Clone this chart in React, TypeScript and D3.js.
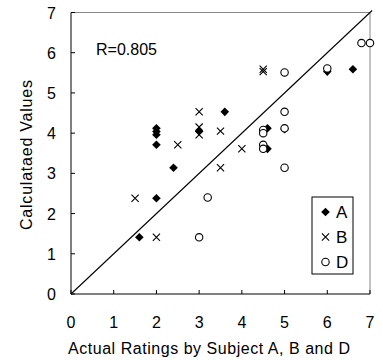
import React from 'react'
import * as d3 from 'd3'

// [actual rating, calculated value]
const seriesA: [number, number][] = [
  [1.6, 1.41], [2, 2.38], [2, 3.71], [2, 3.96], [2, 4.04], [2, 4.12], [2.4, 3.14],
  [3, 4.05], [3.6, 4.53], [4.6, 4.12], [4.6, 3.61], [5, 4.1], [6, 5.53], [6.6, 5.59],
]
const seriesB: [number, number][] = [
  [1.5, 2.38], [2, 1.41], [2.5, 3.71], [3, 4.53], [3, 4.15], [3, 3.96], [3.5, 3.14],
  [3.5, 4.05], [4, 3.61], [4.5, 5.59], [4.5, 5.53],
]
const seriesD: [number, number][] = [
  [3, 1.41], [3.2, 2.4], [4.5, 4.08], [4.5, 4.0], [4.5, 3.71], [4.5, 3.61], [5, 5.51],
  [5, 4.53], [5, 4.12], [5, 3.14], [6, 5.61], [6.8, 6.24], [7, 6.24],
]
const ticks = [0, 1, 2, 3, 4, 5, 6, 7]
const legendNames = ['A', 'B', 'D']
const rLabel = 'R=0.805'

const W = 383
const H = 360
const left = 71
const right = 370
const top = 12.5
const bottom = 294

const x = d3.scaleLinear().domain([0, 7]).range([left, right])
const y = d3.scaleLinear().domain([0, 7]).range([bottom, top])

const font = 'Arial, "Liberation Sans", sans-serif'

const diamond = (cx: number, cy: number, r: number) =>
  `M${cx},${cy - r}L${cx + r},${cy}L${cx},${cy + r}L${cx - r},${cy}Z`
const cross = (cx: number, cy: number, r: number) =>
  `M${cx - r},${cy - r}L${cx + r},${cy + r}M${cx - r},${cy + r}L${cx + r},${cy - r}`

const Marker = ({ kind, cx, cy }: { kind: string; cx: number; cy: number }) => {
  if (kind === 'A') return <path d={diamond(cx, cy, 4.3)} fill="#000" />
  if (kind === 'B') return <path d={cross(cx, cy, 3.6)} stroke="#000" strokeWidth={1.1} fill="none" />
  return <circle cx={cx} cy={cy} r={3.7} fill="#fff" stroke="#000" strokeWidth={1.1} />
}

export default function App() {
  const series: [string, [number, number][]][] = [['A', seriesA], ['B', seriesB], ['D', seriesD]]
  return (
    <svg width={W} height={H} style={{ position: 'absolute', left: 0, top: 0, background: '#fff' }}>
      <rect x={0} y={0} width={W} height={H} fill="#fff" />
      {/* frame */}
      <line x1={left} x2={right} y1={top} y2={top} stroke="#888" />
      <line x1={right} x2={right} y1={top} y2={bottom} stroke="#888" />
      <line x1={left} x2={left} y1={top} y2={bottom} stroke="#000" />
      <line x1={left} x2={right} y1={bottom} y2={bottom} stroke="#000" />
      {ticks.map(t => (
        <g key={'t' + t}>
          <line x1={x(t)} x2={x(t)} y1={bottom} y2={bottom - 4} stroke="#000" />
          <line x1={left} x2={left + 4} y1={y(t)} y2={y(t)} stroke="#000" />
          <text x={x(t)} y={328} textAnchor="middle" fontFamily={font} fontSize={16}>{t}</text>
          <text x={56} y={y(t) + 6} textAnchor="end" fontFamily={font} fontSize={16}>{t}</text>
        </g>
      ))}
      {/* y = x line */}
      <line x1={x(0)} y1={y(0)} x2={x(7.05)} y2={y(7.05)} stroke="#000" strokeWidth={1.1} />
      {series.map(([k, pts]) =>
        pts.map((p, i) => <Marker key={k + i} kind={k} cx={x(p[0])} cy={y(p[1])} />)
      )}
      <text x={96} y={54.5} fontFamily={font} fontSize={16}>{rLabel}</text>
      {/* legend */}
      <rect x={312} y={197} width={41} height={77} fill="#fff" stroke="#000" />
      {legendNames.map((n, i) => (
        <g key={n}>
          <Marker kind={n} cx={325.5} cy={212 + i * 25} />
          <text x={336} y={218 + i * 25} fontFamily={font} fontSize={17}>{n}</text>
        </g>
      ))}
      <text x={209} y={354} textAnchor="middle" fontFamily={font} fontSize={16}
        textLength={282} lengthAdjust="spacing">Actual Ratings by Subject A, B and D</text>
      <text transform="translate(32,155) rotate(-90)" textAnchor="middle" fontFamily={font} fontSize={16}
        textLength={150} lengthAdjust="spacing">Calculataed Values</text>
    </svg>
  )
}
